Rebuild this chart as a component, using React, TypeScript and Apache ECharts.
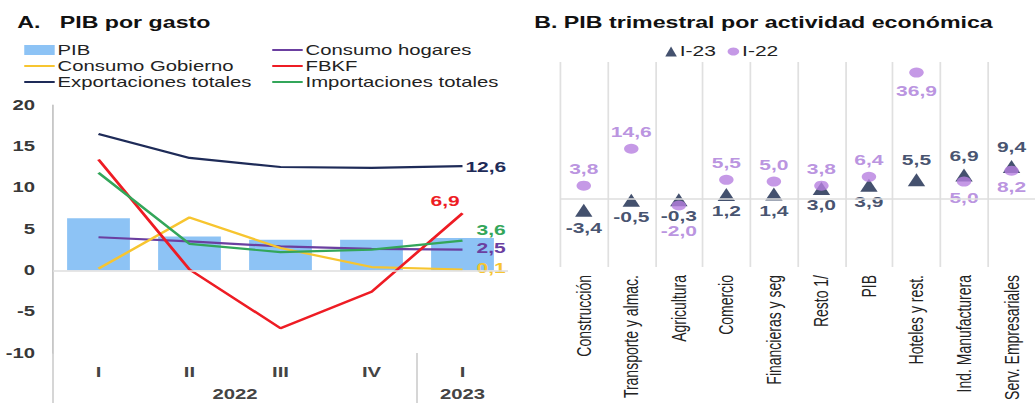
import React, { useEffect, useRef } from "react";
import * as echarts from "echarts";

// ---------- Panel A data ----------
const quarters = ["I", "II", "III", "IV", "I"];
const years = ["2022", "2023"];
const pib = [6.3, 4.1, 3.7, 3.7, 3.9];
const consumoHogares = [4.0, 3.5, 2.9, 2.6, 2.5];
const consumoGobierno = [0.2, 6.4, 2.7, 0.4, 0.1];
const fbkf = [13.4, 0.1, -7.0, -2.6, 6.9];
const exportaciones = [16.5, 13.6, 12.5, 12.4, 12.6];
const importaciones = [11.8, 3.2, 2.2, 2.5, 3.6];
const yTicksA = { min: -10, max: 20, interval: 5 };

// ---------- Panel B data ----------
const actividades = [
  "Construcción",
  "Transporte y almac.",
  "Agricultura",
  "Comercio",
  "Financieras y seg",
  "Resto 1/",
  "PIB",
  "Hoteles y rest.",
  "Ind. Manufacturera",
  "Serv. Empresariales",
];
const i23 = [-3.4, -0.5, -0.3, 1.2, 1.4, 3.0, 3.9, 5.5, 6.9, 9.4];
const i22 = [3.8, 14.6, -2.0, 5.5, 5.0, 3.8, 6.4, 36.9, 5.0, 8.2];
const yRangeB = { min: -20, max: 40 };

// label placement (styling only)
const posI23 = ["bottom", "bottom", "bottom", "bottom", "bottom", "bottom", "bottom", "top", "top", "top"];
const posI22 = ["top", "top", "bottom", "top", "top", "top", "top", "bottom", "bottom", "bottom"];
const distI22 = [4, 4, 13, 4, 4, 4, 4, 6, 4, 4];
const distI23 = [4, 3, 2, 3, 3, 3, 3, 6, 5, 5];

const fmt = (v: number) => v.toFixed(1).replace(".", ",");

const C = {
  bar: "#8DC3F5",
  hog: "#6B3FA0",
  gob: "#F7C530",
  fbkf: "#EE1C24",
  exp: "#1E2B58",
  imp: "#33A65A",
  tri: "#15264A",
  circ: "#B77FE0",
  circLabel: "#A878D8",
};

const FONT = "Liberation Sans, Arial, sans-serif";

// The reference is horizontally stretched; render narrower and stretch with CSS.
const SCALE = 1.45;
const W = 1035 / SCALE;
const H = 403;
const sx = (x: number) => x / SCALE;

// grid geometry (layout only, reference pixel coords converted)
const GA = { left: sx(53), top: 105, width: sx(455), height: 248 };
const GB = { left: sx(560), top: 62, width: sx(483), height: 208 };

const LINE_ICON = "path://M0,0M21,10M0,4H21V6H0Z";

export default function App() {
  const ref = useRef<HTMLDivElement>(null);
  useEffect(() => {
    if (!ref.current) return;
    const chart = echarts.init(ref.current, null, { renderer: "svg" });

    const lineSeries = (
      name: string,
      data: number[],
      color: string,
      distance: number,
      offset: number[]
    ) => ({
      type: "line",
      name,
      data,
      xAxisIndex: 0,
      yAxisIndex: 0,
      symbol: "none",
      lineStyle: { color, width: 2.2 },
      itemStyle: { color },
      endLabel: {
        show: true,
        distance,
        offset,
        color,
        fontFamily: FONT,
        fontWeight: "bold",
        fontSize: 14.5,
        formatter: (p: any) => fmt(Number(p.value)),
      },
      z: 3,
    });

    const bandA = GA.width / quarters.length;
    const legendText = { fontFamily: FONT, fontSize: 14, color: "#222", padding: [0, 0, 0, -3] };

    const option: any = {
      animation: false,
      textStyle: { fontFamily: FONT },
      title: [
        {
          text: "A.   PIB por gasto",
          left: sx(10),
          top: 9,
          textStyle: { fontFamily: FONT, fontSize: 16, fontWeight: "bold", color: "#111" },
        },
        {
          text: "B. PIB trimestral por actividad económica",
          left: sx(527),
          top: 9,
          textStyle: { fontFamily: FONT, fontSize: 16, fontWeight: "bold", color: "#111" },
        },
      ],
      legend: [
        {
          orient: "vertical",
          left: sx(17),
          top: 38,
          itemWidth: 21,
          itemHeight: 10,
          itemGap: 2,
          data: [
            { name: "PIB", icon: "rect" },
            { name: "Consumo Gobierno", icon: LINE_ICON },
            { name: "Exportaciones totales", icon: LINE_ICON },
          ],
          textStyle: legendText,
        },
        {
          orient: "vertical",
          left: sx(265),
          top: 38,
          itemWidth: 21,
          itemHeight: 10,
          itemGap: 2,
          data: [
            { name: "Consumo hogares", icon: LINE_ICON },
            { name: "FBKF", icon: LINE_ICON },
            { name: "Importaciones totales", icon: LINE_ICON },
          ],
          textStyle: legendText,
        },
        {
          left: sx(658),
          top: 39,
          itemWidth: 8,
          itemHeight: 10,
          itemGap: 8,
          data: [
            { name: "I-23", icon: "triangle" },
            { name: "I-22", icon: "circle" },
          ],
          textStyle: { fontFamily: FONT, fontSize: 14.5, color: "#222", padding: [0, 0, 0, -3] },
        },
      ],
      grid: [
        { left: GA.left, top: GA.top, width: GA.width, height: GA.height },
        { left: GB.left, top: GB.top, width: GB.width, height: GB.height },
      ],
      xAxis: [
        {
          type: "category",
          gridIndex: 0,
          data: quarters,
          axisLine: { show: false },
          axisTick: { show: false },
          axisLabel: { margin: 12, fontSize: 14, fontWeight: "bold", color: "#444", fontFamily: FONT },
        },
        {
          type: "value",
          gridIndex: 0,
          position: "bottom",
          min: 0,
          max: quarters.length,
          interval: 0.5,
          axisLine: { show: false },
          axisTick: { show: false },
          splitLine: { show: false },
          axisLabel: {
            margin: 34,
            fontSize: 14,
            fontWeight: "bold",
            color: "#444",
            fontFamily: FONT,
            formatter: (v: number) => (v === 2 ? years[0] : v === 4.5 ? years[1] : ""),
          },
        },
        {
          type: "category",
          gridIndex: 1,
          data: actividades,
          axisLine: { show: false },
          axisTick: { show: false },
          splitLine: { show: true, lineStyle: { color: "#e0e0e0", width: 1.2 } },
          axisLabel: {
            rotate: 90,
            margin: 8,
            fontSize: 14,
            color: "#222",
            fontFamily: FONT,
            interval: 0,
          },
        },
      ],
      yAxis: [
        {
          type: "value",
          gridIndex: 0,
          min: yTicksA.min,
          max: yTicksA.max,
          interval: yTicksA.interval,
          axisLine: { show: true, lineStyle: { color: "#c4c4c4", width: 1.2 } },
          axisTick: { show: false },
          splitLine: { show: false },
          axisLabel: {
            margin: sx(18),
            fontSize: 14,
            fontWeight: "bold",
            color: "#383838",
            fontFamily: FONT,
          },
        },
        {
          type: "value",
          gridIndex: 1,
          min: yRangeB.min,
          max: yRangeB.max,
          show: false,
          splitLine: { show: false },
        },
      ],
      series: [
        {
          type: "bar",
          name: "PIB",
          data: pib,
          xAxisIndex: 0,
          yAxisIndex: 0,
          barWidth: "69%",
          itemStyle: { color: C.bar },
          z: 1,
          markLine: {
            silent: true,
            symbol: "none",
            label: { show: false },
            lineStyle: { color: "#dedede", width: 1.5, type: "solid" },
            data: [{ yAxis: 0 }],
          },
        },
        lineSeries("Consumo hogares", consumoHogares, C.hog, sx(14), [0, -1]),
        lineSeries("Consumo Gobierno", consumoGobierno, C.gob, sx(14), [0, -1]),
        lineSeries("FBKF", fbkf, C.fbkf, 5, [-27, -12]),
        lineSeries("Exportaciones totales", exportaciones, C.exp, 2, [0, 1]),
        lineSeries("Importaciones totales", importaciones, C.imp, sx(14), [0, -10]),
        {
          type: "scatter",
          name: "I-23",
          xAxisIndex: 2,
          yAxisIndex: 1,
          symbol: "triangle",
          symbolSize: [12, 13],
          itemStyle: { color: C.tri },
          data: i23.map((v, i) => ({
            value: v,
            label: { position: posI23[i], distance: distI23[i] },
          })),
          label: {
            show: true,
            color: C.tri,
            fontFamily: FONT,
            fontWeight: "bold",
            fontSize: 14.5,
            formatter: (p: any) => fmt(Number(p.value)),
          },
          markLine: {
            silent: true,
            symbol: "none",
            label: { show: false },
            lineStyle: { color: "#dedede", width: 1.5, type: "solid" },
            data: [{ yAxis: 0 }],
          },
          z: 3,
        },
        {
          type: "scatter",
          name: "I-22",
          xAxisIndex: 2,
          yAxisIndex: 1,
          symbol: "circle",
          symbolSize: [10, 10],
          itemStyle: { color: C.circ },
          data: i22.map((v, i) => ({
            value: v,
            label: { position: posI22[i], distance: distI22[i] },
          })),
          label: {
            show: true,
            color: C.circLabel,
            fontFamily: FONT,
            fontWeight: "bold",
            fontSize: 14.5,
            formatter: (p: any) => fmt(Number(p.value)),
          },
          z: 4,
        },
      ],
      graphic: [
        {
          type: "line",
          shape: { x1: GA.left, y1: GA.top + GA.height, x2: GA.left, y2: H },
          style: { stroke: "#d0d0d0", lineWidth: 1.2 },
        },
        {
          type: "line",
          shape: {
            x1: GA.left + bandA * 4,
            y1: GA.top + GA.height,
            x2: GA.left + bandA * 4,
            y2: H,
          },
          style: { stroke: "#d0d0d0", lineWidth: 1.2 },
        },
      ],
    };

    chart.setOption(option);
    return () => chart.dispose();
  }, []);

  return (
    <div
      ref={ref}
      style={{
        position: "absolute",
        left: 0,
        top: 0,
        width: W,
        height: H,
        background: "#fff",
        transform: `scaleX(${SCALE})`,
        transformOrigin: "0 0",
      }}
    />
  );
}
